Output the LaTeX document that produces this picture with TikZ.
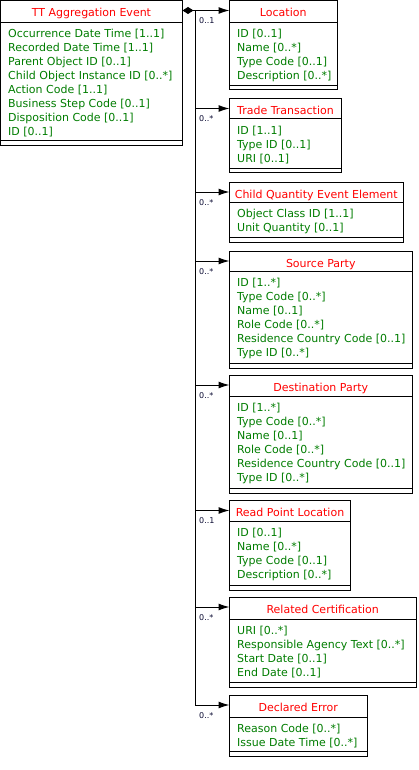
\documentclass[tikz,border=0pt]{standalone}
\usepackage{fontspec}
\setmainfont{DejaVu Sans}
\usetikzlibrary{arrows.meta,calc}
\definecolor{titlered}{RGB}{255,0,0}
\definecolor{attrgreen}{RGB}{0,125,0}
\definecolor{labelnavy}{RGB}{10,10,50}
\tikzset{
  classbox/.style={draw=black, line width=1pt, fill=white, inner sep=0pt, outer sep=0pt, anchor=north west},
  sepline/.style={draw=black, line width=1pt},
  titletext/.style={text=titlered, font=\fontsize{11}{14}\selectfont, inner sep=0pt, anchor=base},
  attrtext/.style={text=attrgreen, font=\fontsize{11}{14}\selectfont, inner sep=0pt, anchor=base west},
  multlabel/.style={text=labelnavy, font=\fontsize{8}{9}\selectfont, inner sep=0pt, anchor=base west},
  assoc/.style={draw=black, line width=1pt, -{Latex[length=11pt,width=7pt]}},
  compose/.style={draw=black, line width=1pt, {Diamond[length=11pt,width=7pt]}-{Latex[length=11pt,width=7pt]}},
}
% #1 name, #2 x1, #3 y1, #4 x2, #5 y2, #6 separator y, #7 title, #8 attributes
\newcommand\umlclassbox[8]{%
  \node[classbox, minimum width={(#4-#2)*1pt}, minimum height={(#5-#3)*1pt}] (#1) at (#2,#3) {};
  \node[titletext] (#1-title) at ({(#2+#4)/2},#3+16) {#7};
  \draw[sepline] (#2,#6) -- (#4,#6);
  \draw[sepline] (#2,#5-4.5) -- (#4,#5-4.5);
  \node[attrtext] (#1-attrs) at (#2+7.5,#6+15.5) {\renewcommand\arraystretch{1}\begin{tabular}[t]{@{}l@{}}#8\end{tabular}};
  \coordinate (#1-in) at (#2,#3+10);
}
\begin{document}
\begin{tikzpicture}[x=1pt,y=-1pt]
\useasboundingbox (0,0) rectangle (418,770);
\umlclassbox{main}{0.5}{0.5}{182.5}{145.5}{22.5}{TT Aggregation Event}{Occurrence Date Time [1..1]\\Recorded Date Time [1..1]\\Parent Object ID [0..1]\\Child Object Instance ID [0..*]\\Action Code [1..1]\\Business Step Code [0..1]\\Disposition Code [0..1]\\ID [0..1]}
\umlclassbox{loc}{229.5}{0.5}{337}{90}{22.5}{Location}{ID [0..1]\\Name [0..*]\\Type Code [0..1]\\Description [0..*]}
\umlclassbox{trade}{229.5}{98.5}{341.5}{173}{119}{Trade Transaction}{ID [1..1]\\Type ID [0..1]\\URI [0..1]}
\umlclassbox{child}{229.5}{182}{403}{242}{202}{Child Quantity Event Element}{Object Class ID [1..1]\\Unit Quantity [0..1]}
\umlclassbox{src}{229.5}{251}{412}{368}{271}{Source Party}{ID [1..*]\\Type Code [0..*]\\Name [0..1]\\Role Code [0..*]\\Residence Country Code [0..1]\\Type ID [0..*]}
\umlclassbox{dest}{229.5}{375}{412}{493}{396}{Destination Party}{ID [1..*]\\Type Code [0..*]\\Name [0..1]\\Role Code [0..*]\\Residence Country Code [0..1]\\Type ID [0..*]}
\umlclassbox{rpl}{229.5}{500.5}{350.5}{590}{521}{Read Point Location}{ID [0..1]\\Name [0..*]\\Type Code [0..1]\\Description [0..*]}
\umlclassbox{cert}{229.5}{597}{416}{687}{619}{Related Certification}{URI [0..*]\\Responsible Agency Text [0..*]\\Start Date [0..1]\\End Date [0..1]}
\umlclassbox{err}{229.5}{695}{367}{756}{717}{Declared Error}{Reason Code [0..*]\\Issue Date Time [0..*]}
% connectors
\coordinate (trunk) at (195.5,10.5);
\draw[compose] (main.east |- loc-in) -- (loc-in);
\foreach \t in {trade,child,src,dest,rpl,cert,err}{
  \draw[assoc] (trunk) |- (\t-in);
}
% multiplicities
\node[multlabel] (m1) at ([xshift=3.5pt,yshift=-13pt]trunk |- loc-in) {0..1};
\node[multlabel] (m2) at ([xshift=3.5pt,yshift=-13pt]trunk |- trade-in) {0..*};
\node[multlabel] (m3) at ([xshift=3.5pt,yshift=-13pt]trunk |- child-in) {0..*};
\node[multlabel] (m4) at ([xshift=3.5pt,yshift=-13pt]trunk |- src-in) {0..*};
\node[multlabel] (m5) at ([xshift=3.5pt,yshift=-13pt]trunk |- dest-in) {0..*};
\node[multlabel] (m6) at ([xshift=3.5pt,yshift=-13pt]trunk |- rpl-in) {0..1};
\node[multlabel] (m7) at ([xshift=3.5pt,yshift=-13pt]trunk |- cert-in) {0..*};
\node[multlabel] (m8) at ([xshift=3.5pt,yshift=-13pt]trunk |- err-in) {0..*};
\end{tikzpicture}
\end{document}
